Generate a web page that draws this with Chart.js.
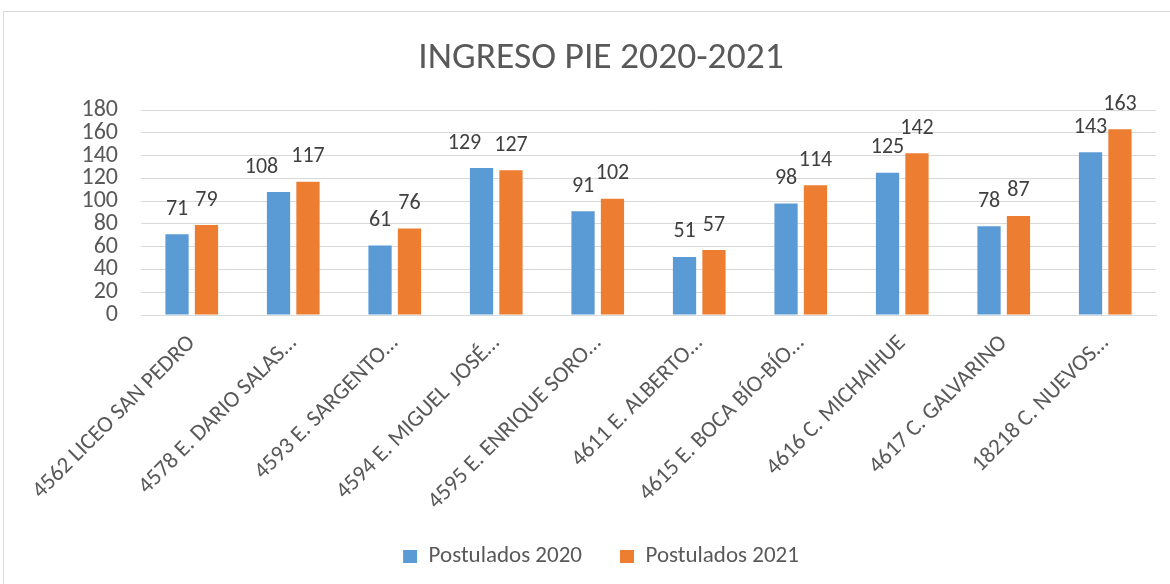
<!DOCTYPE html>
<html>
<head>
<meta charset="utf-8">
<script src="https://cdn.jsdelivr.net/npm/chart.js@4/dist/chart.umd.min.js"></script>
<style>
  html, body { margin: 0; padding: 0; background: #ffffff; }
  #wrap { position: relative; width: 1170px; height: 584px; }
</style>
</head>
<body>
<div id="wrap"><canvas id="c" width="1170" height="584"></canvas></div>
<script>
const categories = [
  "4562 LICEO SAN PEDRO",
  "4578 E. DARIO SALAS…",
  "4593 E. SARGENTO…",
  "4594 E. MIGUEL  JOSÉ…",
  "4595 E. ENRIQUE SORO…",
  "4611 E. ALBERTO…",
  "4615 E. BOCA BÍO-BÍO…",
  "4616 C. MICHAIHUE",
  "4617 C. GALVARINO",
  "18218 C. NUEVOS…"
];
const postulados2020 = [71, 108, 61, 129, 91, 51, 98, 125, 78, 143];
const postulados2021 = [79, 117, 76, 127, 102, 57, 114, 142, 87, 163];
const seriesNames = ["Postulados 2020", "Postulados 2021"];
const titleText = "INGRESO PIE 2020-2021";
const yMin = 0, yMax = 180, yStep = 20;

const FONT = "Carlito, Calibri, Lato, sans-serif";
const TXT = "#595959";
const GRID = "#d9d9d9";
const CENTER_SHIFT = 23;

const framePlugin = {
  id: 'frame',
  beforeDraw(chart) {
    const ctx = chart.ctx;
    ctx.save();
    ctx.fillStyle = '#ffffff';
    ctx.fillRect(0, 0, chart.width, chart.height);
    ctx.strokeStyle = GRID;
    ctx.lineWidth = 1;
    ctx.strokeRect(3.5, 11.5, 1200, 600);
    ctx.restore();
  }
};

const shiftPlugin = {
  id: 'blockShift',
  afterLayout(chart) {
    const lg = chart.legend;
    if (lg) { lg.top -= 6; lg.bottom -= 6; lg.left += CENTER_SHIFT; lg.right += CENTER_SHIFT; }
    const tb = chart.titleBlock;
    if (tb) { tb.left += CENTER_SHIFT; tb.right += CENTER_SHIFT; }
  }
};

const labelPlugin = {
  id: 'valueLabels',
  afterDatasetsDraw(chart) {
    const ctx = chart.ctx;
    ctx.save();
    ctx.font = "22px " + FONT;
    ctx.fillStyle = "#404040";
    ctx.textAlign = 'center';
    ctx.textBaseline = 'middle';
    const m0 = chart.getDatasetMeta(0), m1 = chart.getDatasetMeta(1);
    const d0 = chart.data.datasets[0].data, d1 = chart.data.datasets[1].data;
    const H = 16, GAP = 13;
    for (let j = 0; j < d0.length; j++) {
      const a = m0.data[j], b = m1.data[j];
      const ta = String(d0[j]), tbx = String(d1[j]);
      const wa = ctx.measureText(ta).width, wb = ctx.measureText(tbx).width;
      let xa = a.x, ya = a.y - 25, xb = b.x, yb = b.y - 25;
      const hOver = (xa + wa / 2) - (xb - wb / 2);
      const vOver = Math.abs(ya - yb) < H;
      if (hOver > 0 && vOver) { xa -= hOver + GAP; }
      ctx.fillText(ta, xa, ya);
      ctx.fillText(tbx, xb, yb);
    }
    ctx.restore();
  }
};

new Chart(document.getElementById('c'), {
  type: 'bar',
  data: {
    labels: categories,
    datasets: [
      { label: seriesNames[0], data: postulados2020, backgroundColor: '#5B9BD5',
        categoryPercentage: 0.58, barPercentage: 0.79 },
      { label: seriesNames[1], data: postulados2021, backgroundColor: '#ED7D31',
        categoryPercentage: 0.58, barPercentage: 0.79 }
    ]
  },
  options: {
    responsive: false,
    animation: false,
    devicePixelRatio: 1,
    layout: { padding: { top: 20, left: 0, right: 14, bottom: 0 } },
    plugins: {
      title: {
        display: true, text: titleText, color: TXT,
        font: { family: FONT, size: 37.5, weight: 'normal', lineHeight: 1.2 },
        padding: { top: 16, bottom: 29 }
      },
      legend: {
        display: true, position: 'bottom',
        labels: {
          color: TXT, font: { family: FONT, size: 23 },
          boxWidth: 14, boxHeight: 13, padding: 38
        }
      },
      tooltip: { enabled: false }
    },
    scales: {
      x: {
        grid: { display: false },
        border: { display: true, color: GRID },
        ticks: {
          color: TXT, font: { family: FONT, size: 23 },
          minRotation: 45, maxRotation: 45, autoSkip: false, padding: 7
        },
        afterFit(scale) { scale.height = 198; }
      },
      y: {
        min: yMin, max: yMax,
        grid: { color: GRID, drawTicks: false, lineWidth: 1 },
        border: { display: false },
        ticks: {
          stepSize: yStep, autoSkip: false, color: TXT, font: { family: FONT, size: 24 }, padding: 23
        },
        afterFit(scale) { scale.width = 141; }
      }
    }
  },
  plugins: [framePlugin, shiftPlugin, labelPlugin]
});
</script>
</body>
</html>
